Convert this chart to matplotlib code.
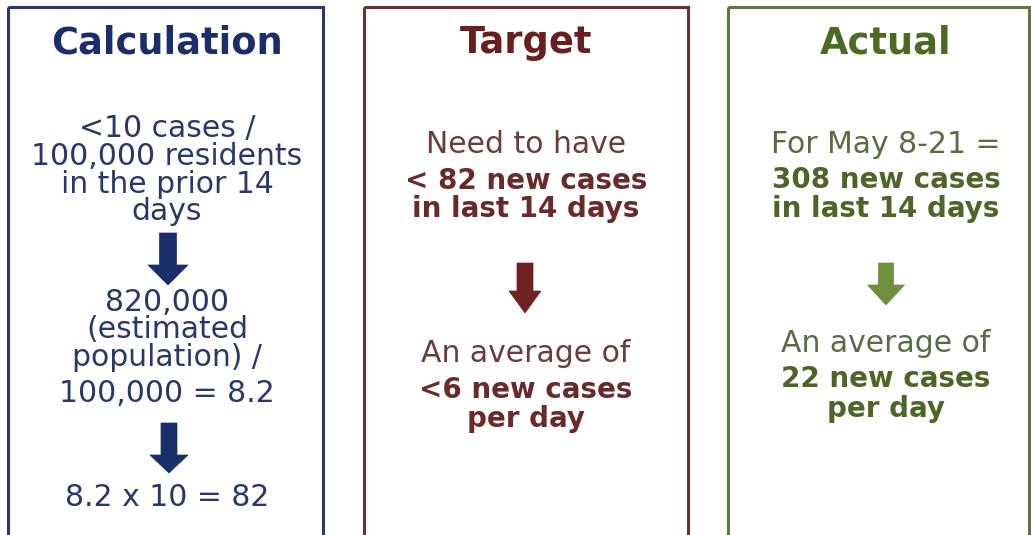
import matplotlib.pyplot as plt
from matplotlib.patches import Rectangle, Polygon

# panel content
titles = ['Calculation', 'Target', 'Actual']
calc_lines = ['<10 cases /', '100,000 residents', 'in the prior 14', 'days',
              '820,000', '(estimated', 'population) /', '100,000 = 8.2',
              '8.2 x 10 = 82']
calc_bold = [False] * 9
target_lines = ['Need to have', '< 82 new cases', 'in last 14 days',
                'An average of', '<6 new cases', 'per day']
target_bold = [False, True, True, False, True, True]
actual_lines = ['For May 8-21 =', '308 new cases', 'in last 14 days',
                'An average of', '22 new cases', 'per day']
actual_bold = [False, True, True, False, True, True]

# layout (pixels, y from top)
W, H = 1031, 535
boxes = [(8, 323), (364, 688), (728, 1029)]
centers = [167, 526, 886]
calc_y = [137, 165, 193, 220, 311, 338, 366, 402, 506]
target_y = [153, 189, 217, 362, 398, 427]
actual_y = [153, 188, 217, 352, 387, 417]
# arrows: cx, top, head start, tip, shaft width, head width
calc_arrows = [(168, 233, 265, 285, 17, 40), (169, 423, 455, 473, 16, 38)]
target_arrows = [(525, 263, 291, 313, 16, 32)]
actual_arrows = [(886, 263, 285, 305, 15, 37)]

edge_cols = ['#253a75', '#6b3030', '#5e7a3a']
title_cols = ['#1a2e6c', '#6a1f1f', '#4d6a22']
reg_cols = ['#28386a', '#6a3c3c', '#5a6c46']
bold_cols = ['#28386a', '#6b2a2a', '#4e6528']
arrow_cols = ['#1a2f6a', '#6e2222', '#6e8f3d']

fig = plt.figure(figsize=(W / 100, H / 100), dpi=100)
ax = fig.add_axes([0, 0, 1, 1])
ax.set_xlim(0, W)
ax.set_ylim(H, 0)
ax.axis('off')


def draw_arrow(cx, top, head, tip, sw, hw, col):
    pts = [(cx - sw / 2, top), (cx + sw / 2, top), (cx + sw / 2, head),
           (cx + hw / 2, head), (cx, tip), (cx - hw / 2, head),
           (cx - sw / 2, head)]
    ax.add_patch(Polygon(pts, closed=True, color=col, lw=0.5))


panels = [(calc_lines, calc_bold, calc_y, calc_arrows),
          (target_lines, target_bold, target_y, target_arrows),
          (actual_lines, actual_bold, actual_y, actual_arrows)]

for i, (lines, bold, ys, arrows) in enumerate(panels):
    x0, x1 = boxes[i]
    ax.add_patch(Rectangle((x0, 7), x1 - x0, H + 20, fill=False,
                           ec=edge_cols[i], lw=2.2))
    ax.text(centers[i], 53, titles[i], ha='center', va='baseline',
            fontsize=26.5, fontweight='bold', color=title_cols[i])
    for txt, b, y in zip(lines, bold, ys):
        ax.text(centers[i], y, txt, ha='center', va='baseline',
                fontsize=20 if b else 21.5,
                fontweight='bold' if b else 'normal',
                color=bold_cols[i] if b else reg_cols[i])
    for a in arrows:
        draw_arrow(*a, arrow_cols[i])

fig.savefig('out.png', dpi=100)
